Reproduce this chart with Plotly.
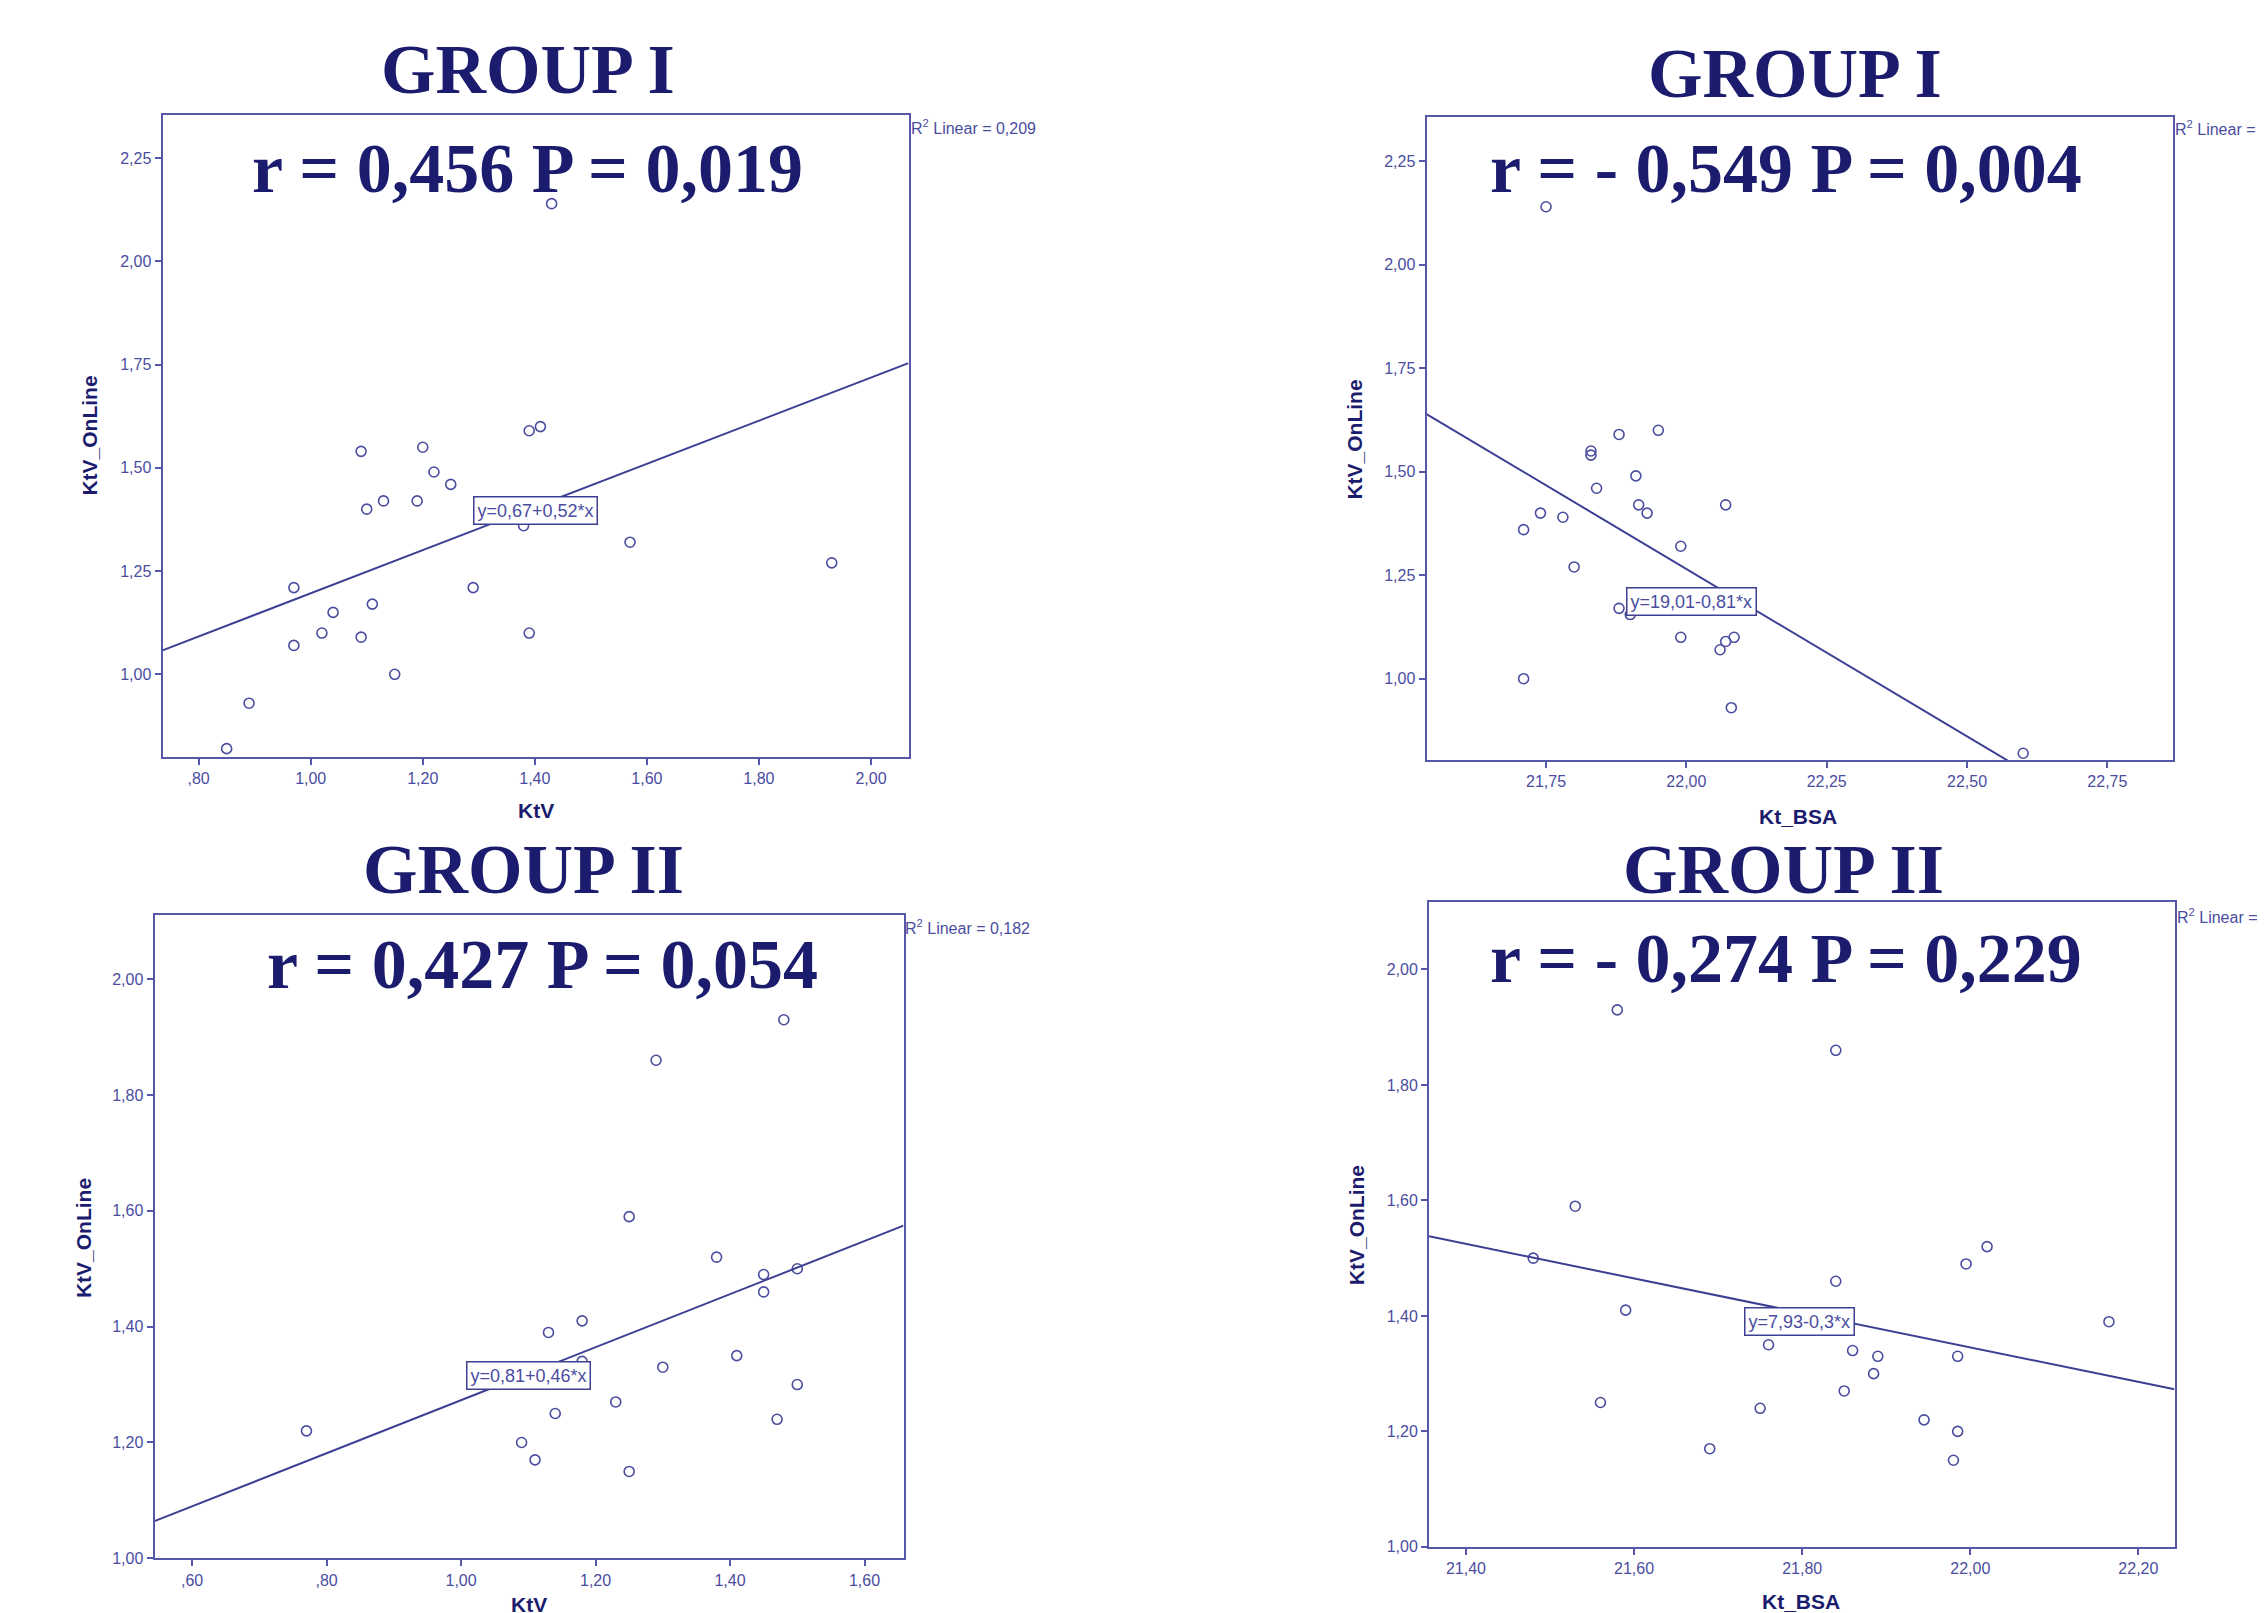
import plotly.graph_objects as go

W, H = 2268, 1613

# ---------------- data ----------------
# Panel A: GROUP I, KtV vs KtV_OnLine
g1_ktv_x = [0.85, 0.89, 0.97, 0.97, 1.02, 1.04, 1.09, 1.09, 1.10, 1.11, 1.13, 1.15,
            1.19, 1.20, 1.22, 1.25, 1.29, 1.38, 1.39, 1.41, 1.39, 1.43, 1.57, 1.93]
g1_ktv_y = [0.82, 0.93, 1.21, 1.07, 1.10, 1.15, 1.09, 1.54, 1.40, 1.17, 1.42, 1.00,
            1.42, 1.55, 1.49, 1.46, 1.21, 1.36, 1.59, 1.60, 1.10, 2.14, 1.32, 1.27]
# Panel B: GROUP I, Kt_BSA vs KtV_OnLine
g1_bsa_x = [21.75, 21.71, 21.74, 21.78, 21.80, 21.71, 21.83, 21.83, 21.84, 21.88, 21.95, 21.91,
            21.915, 21.93, 21.99, 22.07, 21.88, 21.90, 21.99, 22.06, 22.07, 22.085, 22.08, 22.60]
g1_bsa_y = [2.14, 1.36, 1.40, 1.39, 1.27, 1.00, 1.55, 1.54, 1.46, 1.59, 1.60, 1.49,
            1.42, 1.40, 1.32, 1.42, 1.17, 1.155, 1.10, 1.07, 1.09, 1.10, 0.93, 0.82]
# Panel C: GROUP II, KtV vs KtV_OnLine
g2_ktv_x = [0.77, 1.09, 1.11, 1.13, 1.14, 1.18, 1.18, 1.23, 1.25, 1.25, 1.29, 1.30,
            1.38, 1.41, 1.45, 1.45, 1.48, 1.47, 1.50, 1.50]
g2_ktv_y = [1.22, 1.20, 1.17, 1.39, 1.25, 1.41, 1.34, 1.27, 1.59, 1.15, 1.86, 1.33,
            1.52, 1.35, 1.49, 1.46, 1.93, 1.24, 1.50, 1.30]
# Panel D: GROUP II, Kt_BSA vs KtV_OnLine
g2_bsa_x = [21.48, 21.53, 21.56, 21.58, 21.59, 21.69, 21.75, 21.76, 21.84, 21.84, 21.85,
            21.86, 21.89, 21.885, 21.945, 21.98, 21.985, 21.985, 21.995, 22.02, 22.165]
g2_bsa_y = [1.50, 1.59, 1.25, 1.93, 1.41, 1.17, 1.24, 1.35, 1.46, 1.86, 1.27,
            1.34, 1.33, 1.30, 1.22, 1.15, 1.20, 1.33, 1.49, 1.52, 1.39]

# linear fits (intercept, slope) as drawn in the reference
fit_intercept = [0.6735, 19.052, 0.815, 7.919]
fit_slope = [0.5227, -0.8085, 0.458, -0.2988]
fit_labels = ["y=0,67+0,52*x", "y=19,01-0,81*x", "y=0,81+0,46*x", "y=7,93-0,3*x"]
fit_label_pos_x = [1.401, 22.009, 1.10, 21.797]
fit_label_pos_y = [1.397, 1.186, 1.316, 1.39]
r2_labels = ["R<sup>2</sup> Linear = 0,209", "R<sup>2</sup> Linear = 0,301",
             "R<sup>2</sup> Linear = 0,182", "R<sup>2</sup> Linear = 0,075"]

group_titles = ["GROUP I", "GROUP I", "GROUP II", "GROUP II"]
stat_texts = ["r = 0,456 P = 0,019", "r = - 0,549 P = 0,004",
              "r = 0,427 P = 0,054", "r = - 0,274 P = 0,229"]
x_titles = ["KtV", "Kt_BSA", "KtV", "Kt_BSA"]
y_title = "KtV_OnLine"

# ticks
xt_ktv1 = [0.8, 1.0, 1.2, 1.4, 1.6, 1.8, 2.0]
xt_ktv1_text = [",80", "1,00", "1,20", "1,40", "1,60", "1,80", "2,00"]
xt_bsa1 = [21.75, 22.0, 22.25, 22.5, 22.75]
xt_bsa1_text = ["21,75", "22,00", "22,25", "22,50", "22,75"]
yt_g1 = [1.0, 1.25, 1.5, 1.75, 2.0, 2.25]
yt_g1_text = ["1,00", "1,25", "1,50", "1,75", "2,00", "2,25"]
xt_ktv2 = [0.6, 0.8, 1.0, 1.2, 1.4, 1.6]
xt_ktv2_text = [",60", ",80", "1,00", "1,20", "1,40", "1,60"]
xt_bsa2 = [21.4, 21.6, 21.8, 22.0, 22.2]
xt_bsa2_text = ["21,40", "21,60", "21,80", "22,00", "22,20"]
yt_g2 = [1.0, 1.2, 1.4, 1.6, 1.8, 2.0]
yt_g2_text = ["1,00", "1,20", "1,40", "1,60", "1,80", "2,00"]

# ---------------- layout geometry (pixels) ----------------
# box: left, right, top, bottom
boxes = [(154.5, 900.5, 107.5, 753.5),
         (1418.5, 2164.5, 109.5, 756.5),
         (146.5, 895.5, 912.0, 1559.0),
         (1421.0, 2166.5, 899.5, 1547.5)]
x_ranges = [(0.7355, 2.067), (21.537, 22.866), (0.544, 1.658), (21.356, 22.243)]
y_ranges = [(0.799, 2.355), (0.803, 2.357), (1.00, 2.111), (1.00, 2.116)]
title_pos = [(520, 62), (1787, 66), (515, 866), (1775, 866)]
stat_pos = [(519, 161), (1778, 161), (534, 962), (1778, 956)]
xtitle_pos = [(528, 807), (1790, 813), (521, 1605), (1793, 1602)]
ytitle_pos = [(82, 430), (1347, 434), (75, 1237), (1348, 1224)]
r2_pos = [(901, 120), (2165, 121), (895, 924), (2167, 913)]

NAVY = "#1b1c6e"
AXC = "#5558a8"
TXT = "#4a4da0"
MARK = "#4a4d9e"
LINE = "#3c3f92"

xs = [g1_ktv_x, g1_bsa_x, g2_ktv_x, g2_bsa_x]
ys = [g1_ktv_y, g1_bsa_y, g2_ktv_y, g2_bsa_y]
xticks = [(xt_ktv1, xt_ktv1_text), (xt_bsa1, xt_bsa1_text), (xt_ktv2, xt_ktv2_text), (xt_bsa2, xt_bsa2_text)]
yticks = [(yt_g1, yt_g1_text), (yt_g1, yt_g1_text), (yt_g2, yt_g2_text), (yt_g2, yt_g2_text)]


def px(x):
    return x / W


def py(y):
    return 1 - y / H


fig = go.Figure()
annotations = []
layout = {}
for i in range(4):
    n = "" if i == 0 else str(i + 1)
    xa, ya = "x" + n, "y" + n
    l, r, t, b = boxes[i]
    fig.add_trace(go.Scatter(
        x=xs[i], y=ys[i], mode="markers", xaxis=xa, yaxis=ya, showlegend=False,
        marker=dict(symbol="circle-open", size=10, color=MARK, line=dict(width=1.6, color=MARK)),
    ))
    x0, x1 = x_ranges[i]
    fig.add_trace(go.Scatter(
        x=[x0, x1], y=[fit_intercept[i] + fit_slope[i] * x0, fit_intercept[i] + fit_slope[i] * x1],
        mode="lines", xaxis=xa, yaxis=ya, showlegend=False,
        line=dict(color=LINE, width=2),
    ))
    axis_common = dict(showgrid=False, zeroline=False, showline=True, mirror=True,
                       linecolor=AXC, linewidth=2, ticks="outside", ticklen=6,
                       tickwidth=2, tickcolor=AXC,
                       tickfont=dict(family="Liberation Sans", size=16, color=TXT))
    layout["xaxis" + n] = dict(axis_common, domain=[px(l), px(r)], range=list(x_ranges[i]),
                               anchor=ya, tickmode="array", tickvals=xticks[i][0],
                               ticktext=xticks[i][1])
    layout["yaxis" + n] = dict(axis_common, domain=[py(b), py(t)], range=list(y_ranges[i]),
                               anchor=xa, tickmode="array", tickvals=yticks[i][0],
                               ticktext=yticks[i][1])
    annotations.append(dict(xref="paper", yref="paper", x=px(title_pos[i][0]), y=py(title_pos[i][1]),
                            text="<b>%s</b>" % group_titles[i], showarrow=False,
                            xanchor="center", yanchor="middle",
                            font=dict(family="Liberation Serif", size=70, color=NAVY)))
    annotations.append(dict(xref="paper", yref="paper", x=px(stat_pos[i][0]), y=py(stat_pos[i][1]),
                            text="<b>%s</b>" % stat_texts[i], showarrow=False,
                            xanchor="center", yanchor="middle",
                            font=dict(family="Liberation Serif", size=70, color=NAVY)))
    annotations.append(dict(xref="paper", yref="paper", x=px(xtitle_pos[i][0]), y=py(xtitle_pos[i][1]),
                            text="<b>%s</b>" % x_titles[i], showarrow=False,
                            xanchor="center", yanchor="middle",
                            font=dict(family="Liberation Sans", size=21, color=NAVY)))
    annotations.append(dict(xref="paper", yref="paper", x=px(ytitle_pos[i][0]), y=py(ytitle_pos[i][1]),
                            text="<b>%s</b>" % y_title, showarrow=False, textangle=-90,
                            xanchor="center", yanchor="middle",
                            font=dict(family="Liberation Sans", size=21, color=NAVY)))
    annotations.append(dict(xref="paper", yref="paper", x=px(r2_pos[i][0]), y=py(r2_pos[i][1]),
                            text=r2_labels[i], showarrow=False,
                            xanchor="left", yanchor="middle",
                            font=dict(family="Liberation Sans", size=16, color=TXT)))
    annotations.append(dict(xref=xa, yref=ya, x=fit_label_pos_x[i], y=fit_label_pos_y[i],
                            text=fit_labels[i], showarrow=False,
                            xanchor="center", yanchor="middle",
                            bgcolor="white", bordercolor=LINE, borderwidth=1.5, borderpad=3,
                            font=dict(family="Liberation Sans", size=18, color=TXT)))

fig.update_layout(width=W, height=H, margin=dict(l=0, r=0, t=0, b=0),
                  paper_bgcolor="white", plot_bgcolor="white",
                  annotations=annotations, **layout)
fig.write_html("out.html")
